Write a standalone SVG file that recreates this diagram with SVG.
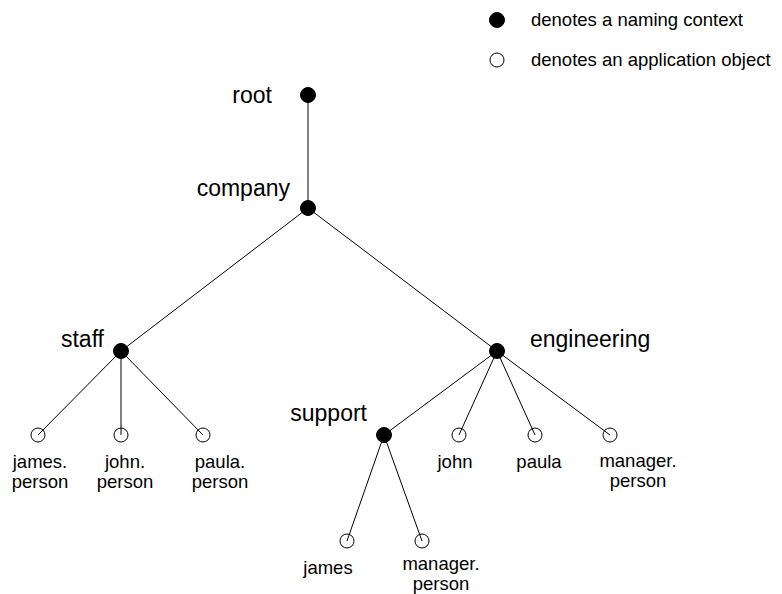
<svg xmlns="http://www.w3.org/2000/svg" width="782" height="594" viewBox="0 0 782 594">
<style>
.bg{fill:#ffffff}
.edge{stroke:#000;stroke-width:1;fill:none}
.ctx{fill:#000;stroke:#000;stroke-width:1}
.obj{fill:none;stroke:#000;stroke-width:1}
.nl{font-family:"Liberation Sans",Arial,sans-serif;font-size:23px;fill:#000}
.ll{font-family:"Liberation Sans",Arial,sans-serif;font-size:18.5px;fill:#000;text-anchor:middle}
.lg{font-family:"Liberation Sans",Arial,sans-serif;font-size:18.5px;fill:#000}
</style>
<rect class="bg" x="0" y="0" width="782" height="594"/>
<g id="legend">
<circle class="ctx" cx="497" cy="20" r="7.5"/>
<text class="lg" x="531" y="26">denotes a naming context</text>
<circle class="obj" cx="497" cy="60" r="7"/>
<text class="lg" x="531" y="66">denotes an application object</text>
</g>
<g id="connectors">
<line class="edge" x1="308" y1="95" x2="308" y2="208"/>
<line class="edge" x1="308" y1="208" x2="121" y2="351"/>
<line class="edge" x1="308" y1="208" x2="497" y2="351"/>
<line class="edge" x1="121" y1="351" x2="38" y2="435"/>
<line class="edge" x1="121" y1="351" x2="121" y2="435"/>
<line class="edge" x1="121" y1="351" x2="203" y2="435"/>
<line class="edge" x1="497" y1="351" x2="384" y2="435"/>
<line class="edge" x1="497" y1="351" x2="459" y2="435"/>
<line class="edge" x1="497" y1="351" x2="535" y2="435"/>
<line class="edge" x1="497" y1="351" x2="610" y2="435"/>
<line class="edge" x1="384" y1="435" x2="347" y2="541"/>
<line class="edge" x1="384" y1="435" x2="422" y2="541"/>
</g>
<g id="root">
<circle class="ctx" cx="308" cy="95" r="7.5"/>
<text class="nl" x="272" y="103" text-anchor="end">root</text>
</g>
<g id="company">
<circle class="ctx" cx="308" cy="208" r="7.5"/>
<text class="nl" x="290" y="196" text-anchor="end">company</text>
</g>
<g id="staff">
<circle class="ctx" cx="121" cy="351" r="7.5"/>
<text class="nl" x="104" y="347" text-anchor="end">staff</text>
</g>
<g id="engineering">
<circle class="ctx" cx="497" cy="351" r="7.5"/>
<text class="nl" x="530" y="347">engineering</text>
</g>
<g id="support">
<circle class="ctx" cx="384" cy="435" r="7.5"/>
<text class="nl" x="367" y="421" text-anchor="end">support</text>
</g>
<g id="staff-james-person">
<circle class="obj" cx="38" cy="435" r="7"/>
<text class="ll" x="40" y="468">james.</text>
<text class="ll" x="40" y="488">person</text>
</g>
<g id="staff-john-person">
<circle class="obj" cx="121" cy="435" r="7"/>
<text class="ll" x="125" y="468">john.</text>
<text class="ll" x="125" y="488">person</text>
</g>
<g id="staff-paula-person">
<circle class="obj" cx="203" cy="435" r="7"/>
<text class="ll" x="220" y="468">paula.</text>
<text class="ll" x="220" y="488">person</text>
</g>
<g id="eng-john">
<circle class="obj" cx="459" cy="435" r="7"/>
<text class="ll" x="455" y="468">john</text>
</g>
<g id="eng-paula">
<circle class="obj" cx="535" cy="435" r="7"/>
<text class="ll" x="539" y="468">paula</text>
</g>
<g id="eng-manager-person">
<circle class="obj" cx="610" cy="435" r="7"/>
<text class="ll" x="638" y="467">manager.</text>
<text class="ll" x="638" y="487">person</text>
</g>
<g id="support-james">
<circle class="obj" cx="347" cy="541" r="7"/>
<text class="ll" x="328" y="574">james</text>
</g>
<g id="support-manager-person">
<circle class="obj" cx="422" cy="541" r="7"/>
<text class="ll" x="441" y="570">manager.</text>
<text class="ll" x="441" y="590">person</text>
</g>
</svg>
